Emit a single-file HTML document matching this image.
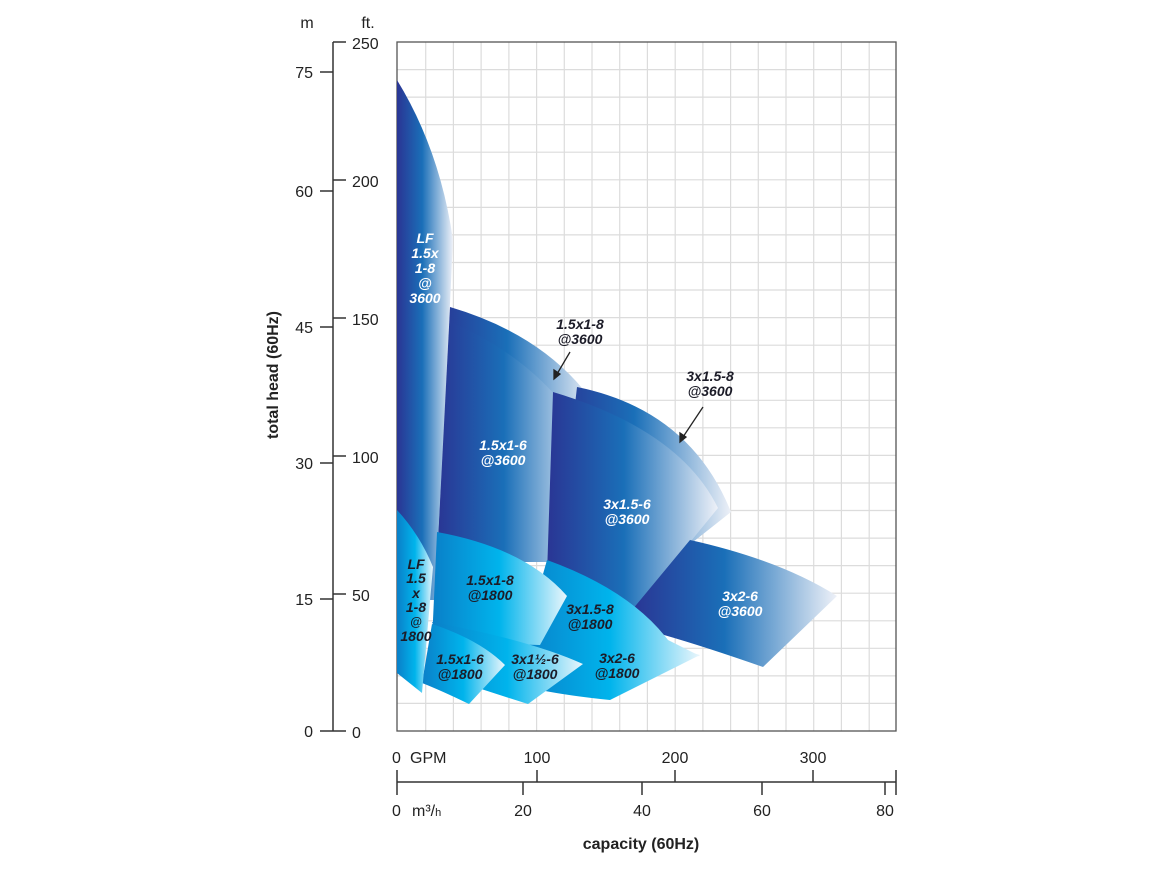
<!DOCTYPE html>
<html><head><meta charset="utf-8"><style>
html,body{margin:0;padding:0;background:#fff}
svg{display:block}
text{font-family:"Liberation Sans",sans-serif}
.l{font-weight:bold;font-style:italic;font-size:14px;text-anchor:middle}
.w{fill:#fff}.d{fill:#1c1c28}
.ax{font-size:16px;fill:#222}
</style></head><body>
<svg width="1170" height="880" viewBox="0 0 1170 880">
<defs>
<linearGradient id="gd" x1="0" x2="1" y1="0" y2="0">
<stop offset="0" stop-color="#2a3594"/><stop offset="0.45" stop-color="#1a6fb8"/><stop offset="1" stop-color="#eef1f8"/></linearGradient>
<linearGradient id="gc" x1="0" x2="1" y1="0" y2="0">
<stop offset="0" stop-color="#0a7fc8"/><stop offset="0.5" stop-color="#00b4ec"/><stop offset="1" stop-color="#eaf6fc"/></linearGradient>
</defs>
<!-- grid -->
<g stroke="#dcdcdc" stroke-width="1.2">
<path d="M425.7,42V731M453.4,42V731M481.1,42V731M508.9,42V731M536.6,42V731M564.3,42V731M592,42V731M619.7,42V731M647.4,42V731M675.2,42V731M702.9,42V731M730.6,42V731M758.3,42V731M786,42V731M813.7,42V731M841.4,42V731M869.2,42V731"/>
<path d="M397,69.6H896M397,97.1H896M397,124.7H896M397,152.2H896M397,179.8H896M397,207.4H896M397,234.9H896M397,262.5H896M397,290H896M397,317.6H896M397,345.2H896M397,372.7H896M397,400.3H896M397,427.8H896M397,455.4H896M397,483H896M397,510.5H896M397,538.1H896M397,565.6H896M397,593.2H896M397,620.8H896M397,648.3H896M397,675.9H896M397,703.4H896"/>
</g>
<rect x="397" y="42" width="499" height="689" fill="none" stroke="#555" stroke-width="1.3"/>
<!-- 3600 series -->
<path d="M397,80 Q440,150 453,240 L436,600 L397,600 Z" fill="url(#gd)"/>
<path d="M450,307 Q545,335 593,402 L550,562 L437,562 Z" fill="url(#gd)"/>
<path d="M450,322 Q540,360 586,437 L547,562 L437,562 Z" fill="url(#gd)"/>
<path d="M577,387 Q690,410 731,512 L693,542 L640,608 L555,580 Z" fill="url(#gd)"/>
<path d="M553,392 Q680,430 718,508 L633,612 L547,575 Z" fill="url(#gd)"/>
<path d="M690,540 Q780,560 837,596 L763,667 Q700,645 657,633 L632,610 Z" fill="url(#gd)"/>
<!-- 1800 series -->
<path d="M547,560 Q630,590 668,640 L700,656 L640,660 L520,655 Z" fill="url(#gc)"/>
<path d="M520,620 Q620,632 700,655 L610,700 Q570,696 540,690 Z" fill="url(#gc)"/>
<path d="M437,532 Q525,548 567,596 L540,645 L432,642 Z" fill="url(#gc)"/>
<path d="M432,622 Q530,640 583,664 L528,704 Q490,692 460,682 Z" fill="url(#gc)"/>
<path d="M432,624 Q480,640 505,665 L469,704 Q440,690 422,683 Z" fill="url(#gc)"/>
<path d="M397,510 Q420,535 433,567 L422,693 L397,673 Z" fill="url(#gc)"/>
<!-- labels -->
<g class="l w">
<text x="425" y="243">LF</text><text x="425" y="258">1.5x</text><text x="425" y="273">1-8</text><text x="425" y="288">@</text><text x="425" y="303">3600</text>
<text x="503" y="450">1.5x1-6</text><text x="503" y="465">@3600</text>
<text x="627" y="509">3x1.5-6</text><text x="627" y="524">@3600</text>
<text x="740" y="601">3x2-6</text><text x="740" y="616">@3600</text>
</g>
<g class="l d">
<text x="580" y="329">1.5x1-8</text><text x="580" y="344">@3600</text>
<text x="710" y="381">3x1.5-8</text><text x="710" y="396">@3600</text>
<text x="416" y="569">LF</text><text x="416" y="583">1.5</text><text x="416" y="598">x</text><text x="416" y="612">1-8</text><text x="416" y="626" style="font-size:12px">@</text><text x="416" y="641">1800</text>
<text x="490" y="585">1.5x1-8</text><text x="490" y="600">@1800</text>
<text x="590" y="614">3x1.5-8</text><text x="590" y="629">@1800</text>
<text x="460" y="664">1.5x1-6</text><text x="460" y="679">@1800</text>
<text x="535" y="664">3x1½-6</text><text x="535" y="679">@1800</text>
<text x="617" y="663">3x2-6</text><text x="617" y="678">@1800</text>
</g>
<g stroke="#222" stroke-width="1.3" fill="#222">
<path d="M570,352 L557,374"/><path d="M554,379 l0,-9 l6,4 z"/>
<path d="M703,407 L683,437"/><path d="M680,442 l0,-9 l6,4 z"/>
</g>
<!-- left axes -->
<g stroke="#333" stroke-width="1.5" fill="none">
<path d="M333,42V731"/>
<path d="M333,42h13M333,180h13M333,318h13M333,456h13M333,594h13M333,731h13"/>
<path d="M320,72h13M320,191h13M320,327h13M320,463h13M320,599h13M320,731h13"/>
</g>
<g class="ax">
<text x="307" y="28" text-anchor="middle">m</text><text x="368" y="28" text-anchor="middle">ft.</text>
<text x="352" y="49">250</text><text x="352" y="187">200</text><text x="352" y="325">150</text><text x="352" y="463">100</text><text x="352" y="601">50</text><text x="352" y="738">0</text>
<text x="313" y="78" text-anchor="end">75</text><text x="313" y="197" text-anchor="end">60</text><text x="313" y="333" text-anchor="end">45</text><text x="313" y="469" text-anchor="end">30</text><text x="313" y="605" text-anchor="end">15</text><text x="313" y="737" text-anchor="end">0</text>
</g>
<text transform="translate(278,375) rotate(-90)" text-anchor="middle" style="font-size:16px;font-weight:bold;fill:#222">total head (60Hz)</text>
<!-- bottom axis -->
<g stroke="#333" stroke-width="1.5" fill="none">
<path d="M397,782H896"/>
<path d="M397,770V795M537,770V782M675,770V782M813,770V782M896,770V795"/>
<path d="M523,782V795M642,782V795M762,782V795M885,782V795"/>
</g>
<g class="ax">
<text x="392" y="763">0</text><text x="410" y="763">GPM</text>
<text x="537" y="763" text-anchor="middle">100</text><text x="675" y="763" text-anchor="middle">200</text><text x="813" y="763" text-anchor="middle">300</text>
<text x="392" y="816">0</text><text x="412" y="816">m³/<tspan style="font-size:11px">h</tspan></text>
<text x="523" y="816" text-anchor="middle">20</text><text x="642" y="816" text-anchor="middle">40</text><text x="762" y="816" text-anchor="middle">60</text><text x="885" y="816" text-anchor="middle">80</text>
</g>
<text x="641" y="849" text-anchor="middle" style="font-size:16px;font-weight:bold;fill:#222">capacity (60Hz)</text>
</svg>
</body></html>
